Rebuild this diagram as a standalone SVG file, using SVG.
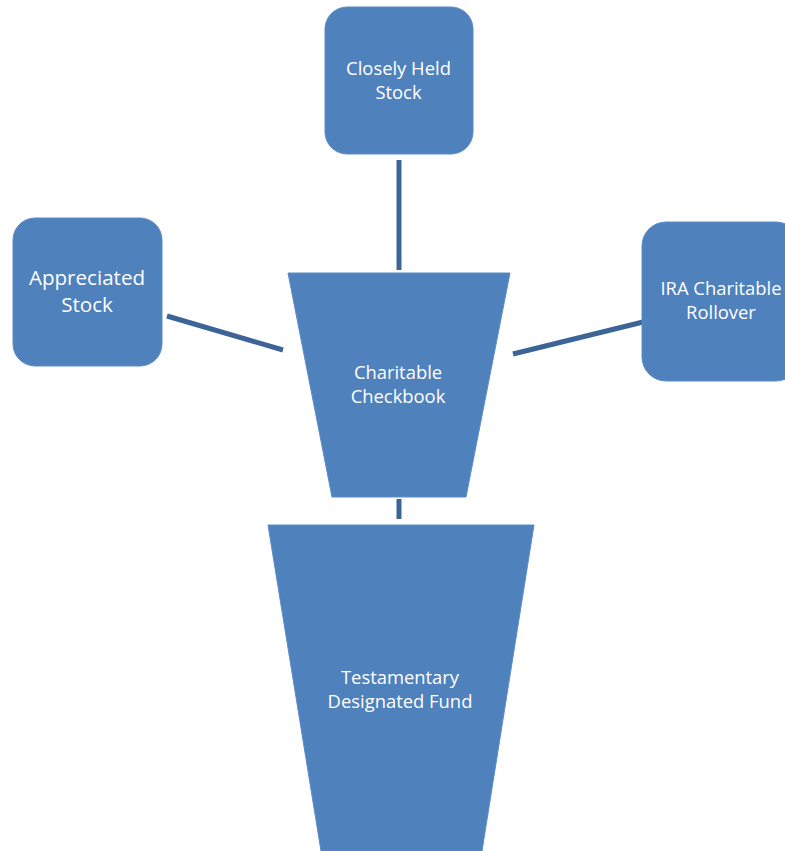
<svg xmlns="http://www.w3.org/2000/svg" width="785" height="851" viewBox="0 0 785 851">
<style>
.node{fill:#4f81bd;stroke:#5b8cc8;stroke-width:1}
.lbl{fill:#ffffff;font-family:"Open Sans","Noto Sans",sans-serif;font-size:18.4px;text-anchor:middle}
.big{font-size:20.6px}
.conn{stroke:#3c6497;stroke-width:5;fill:none}
</style>
<rect width="785" height="851" fill="#ffffff"/>
<g id="connectors">
<line class="conn" x1="399" y1="160" x2="399" y2="270"/>
<line class="conn" x1="167" y1="316" x2="283" y2="350"/>
<line class="conn" x1="513" y1="354" x2="643" y2="322"/>
<line class="conn" x1="399" y1="499" x2="399" y2="519"/>
</g>
<g id="closely-held-stock">
<rect class="node" x="325" y="7" width="148" height="147" rx="22"/>
<text class="lbl" x="398.5" y="75">Closely Held</text>
<text class="lbl" x="398.5" y="99">Stock</text>
</g>
<g id="appreciated-stock">
<rect class="node" x="13" y="218" width="149" height="148" rx="22"/>
<text class="lbl big" x="87" y="285">Appreciated</text>
<text class="lbl big" x="87" y="312">Stock</text>
</g>
<g id="ira-charitable-rollover">
<rect class="node" x="642" y="222" width="158" height="159" rx="24"/>
<text class="lbl" x="721" y="295">IRA Charitable</text>
<text class="lbl" x="721" y="319">Rollover</text>
</g>
<g id="charitable-checkbook">
<polygon class="node" points="288,273 510,273 466,497 332,497"/>
<text class="lbl" x="398" y="379">Charitable</text>
<text class="lbl" x="398" y="403">Checkbook</text>
</g>
<g id="testamentary-designated-fund">
<polygon class="node" points="268,525 534,525 482,851 321,851"/>
<text class="lbl" x="400" y="684">Testamentary</text>
<text class="lbl" x="400" y="708">Designated Fund</text>
</g>
</svg>
